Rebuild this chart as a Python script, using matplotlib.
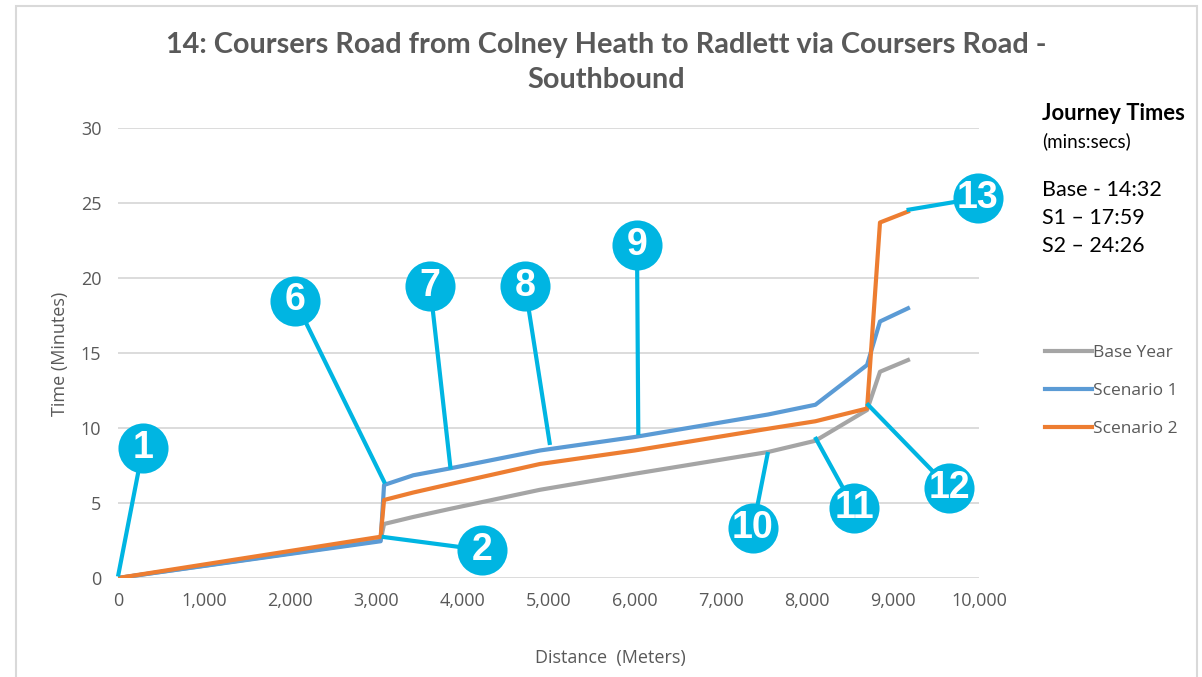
import matplotlib.pyplot as plt
from matplotlib.patches import Rectangle

# distance along the route (m) and cumulative journey time (min)
dist = [0, 3050, 3090, 3430, 3850, 4900, 6000, 7550, 8100, 8700, 8850, 9175]
base_year = [0, 2.5, 3.6, 4.07, 4.6, 5.88, 6.95, 8.4, 9.15, 11.2, 13.75, 14.53]
scenario1 = [0, 2.45, 6.2, 6.85, 7.3, 8.5, 9.4, 10.9, 11.55, 14.2, 17.1, 17.98]
scenario2 = [0, 2.75, 5.2, 5.7, 6.25, 7.6, 8.5, 9.95, 10.45, 11.3, 23.7, 24.43]

# numbered junction markers: label, bubble position, point on the route
marker_ids = ['1', '2', '6', '7', '8', '9', '10', '11', '12', '13']
marker_xy = [(291, 8.7), (4231, 1.87), (2056, 18.5), (3624, 19.5), (4727, 19.5),
             (6028, 22.2), (7375, 3.33), (8548, 4.67), (9652, 6.0), (9988, 25.33)]
marker_target = [(0, 0.1), (3062, 2.75), (3101, 6.3), (3863, 7.25), (5017, 8.87),
                 (6043, 9.53), (7549, 8.4), (8095, 9.4), (8696, 11.64), (9159, 24.53)]

journey_times = ['Base - 14:32', 'S1 \u2013 17:59', 'S2 \u2013 24:26']

plt.rcParams['font.family'] = ['Open Sans', 'DejaVu Sans']
grey_txt = '#595959'
cyan = '#00B5E2'

fig = plt.figure(figsize=(12.02, 6.77), dpi=100)
W, H = 1202, 677
ax = fig.add_axes([118 / W, 1 - 578 / H, (979 - 118) / W, (578 - 128) / H])

ax.plot(dist, base_year, color='#A5A5A5', lw=3, label='Base Year', zorder=3)
ax.plot(dist, scenario1, color='#5B9BD5', lw=3, label='Scenario 1', zorder=4)
ax.plot(dist, scenario2, color='#ED7D31', lw=3, label='Scenario 2', zorder=5)

ax.set_xlim(0, 10000)
ax.set_ylim(0, 30)
ax.set_xticks(range(0, 10001, 1000))
ax.set_xticklabels([f'{v:,}' for v in range(0, 10001, 1000)])
ax.set_yticks(range(0, 31, 5))
ax.grid(axis='y', color='#D9D9D9', lw=1.3)
ax.set_axisbelow(True)
for s in ax.spines.values():
    s.set_visible(False)
ax.tick_params(length=0, labelsize=13, labelcolor=grey_txt, pad=10)
ax.tick_params(axis='y', pad=12)

# callout bubbles with leader lines
for lab, (cx, cy), (tx, ty) in zip(marker_ids, marker_xy, marker_target):
    ax.plot([tx, cx], [ty, cy], color=cyan, lw=3, zorder=6, clip_on=False,
            solid_capstyle='butt')
    ax.scatter([cx], [cy], s=1300, color=cyan, zorder=7, clip_on=False, lw=0)
    ax.text(cx, cy, lab, color='white', fontsize=27, fontweight='bold',
            family='Liberation Sans', ha='center', va='center', zorder=8)

fig.text(606 / W, 1 - 45 / H, '14: Coursers Road from Colney Heath to Radlett via Coursers Road -',
         ha='center', va='center', fontsize=20.8, fontweight='bold', color=grey_txt, family='Lato')
fig.text(606 / W, 1 - 80 / H, 'Southbound',
         ha='center', va='center', fontsize=20.8, fontweight='bold', color=grey_txt, family='Lato')

fig.text(60 / W, 1 - 354 / H, 'Time (Minutes)', rotation=90, ha='center', va='center',
         fontsize=13, color=grey_txt)
fig.text(610 / W, 1 - 658 / H, 'Distance  (Meters)', ha='center', va='center',
         fontsize=13, color=grey_txt)

fig.text(1042 / W, 1 - 113 / H, 'Journey Times', ha='left', va='center',
         fontsize=15.8, fontweight='bold', color='black', family='Lato')
fig.text(1042 / W, 1 - 141 / H, '(mins:secs)', ha='left', va='center',
         fontsize=13.5, color='black', family='Lato')
for i, t in enumerate(journey_times):
    fig.text(1042 / W, 1 - (190 + 28 * i) / H, t, ha='left', va='center',
             fontsize=15.5, color='black', family='Lato')

fig.legend(loc='center left', bbox_to_anchor=(1036 / W, 1 - 391 / H), frameon=False,
           fontsize=12.5, handlelength=2.7, handletextpad=0.1, labelspacing=1.25,
           borderpad=0, labelcolor=grey_txt)

fig.patches.append(Rectangle((16 / W, -0.05), (1197 - 16) / W, 1.05 - 6 / H,
                             transform=fig.transFigure, fill=False,
                             edgecolor='#D9D9D9', lw=1.5))

fig.savefig('out.png', dpi=100)
